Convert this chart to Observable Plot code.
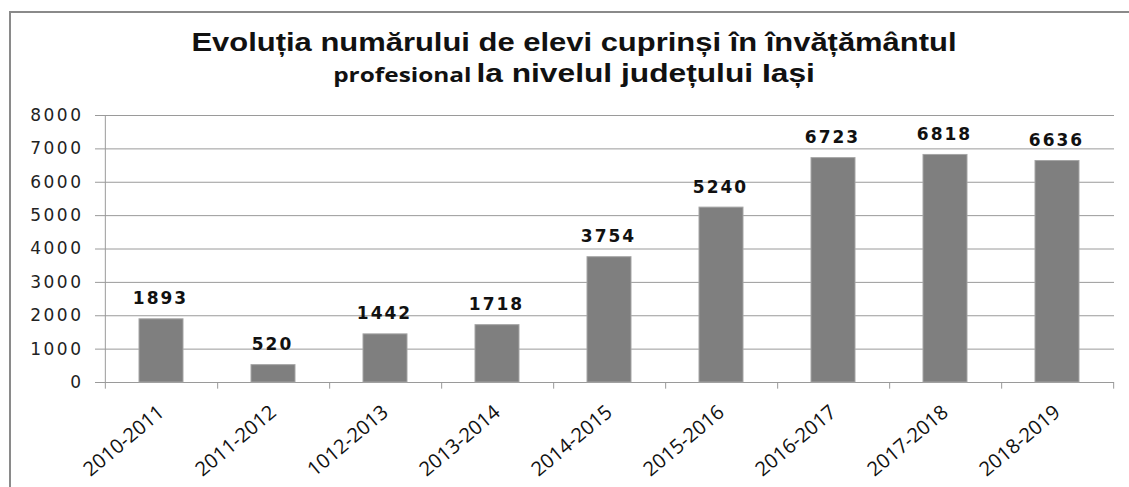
<!DOCTYPE html>
<html><head><meta charset="utf-8">
<script src="https://cdn.jsdelivr.net/npm/d3@7"></script>
<script src="https://cdn.jsdelivr.net/npm/@observablehq/plot@0.6"></script>
<style>
body{margin:0;background:#fff;}
#wrap{position:relative;width:1129px;height:487px;overflow:hidden;background:#fff;}
#border{position:absolute;left:9px;top:11px;width:1140px;height:500px;border-left:2px solid #8a8a8a;border-top:2px solid #8a8a8a;}
#chart{position:absolute;left:0;top:0;}
.t{position:absolute;left:0;width:1148px;text-align:center;white-space:nowrap;color:#111;font-weight:bold;transform-origin:574px 50%;}
#t1{top:26px;font:bold 26px "Liberation Sans",Arial,sans-serif;line-height:32px;transform:scaleX(1.19);}
#t2{top:58px;line-height:32px;transform:scaleX(1.22);}
#t2 .a{font:bold 20px "Open Sans",sans-serif;}
#t2 .b{font:bold 26px "Liberation Sans",Arial,sans-serif;}
svg [aria-label="y-axis tick label"] text{font-family:"DejaVu Sans",sans-serif;font-size:17px;letter-spacing:2.5px;}
svg [aria-label="x-axis tick label"] text{font-family:"Open Sans",sans-serif;font-size:20px;}
svg .vlabel text{font-family:"DejaVu Sans",sans-serif;font-weight:bold;font-size:17px;letter-spacing:2px;}
</style></head>
<body><div id="wrap"><div id="border"></div><div id="chart"></div>
<div class="t" id="t1">Evoluția numărului de elevi cuprinși în învățământul</div>
<div class="t" id="t2"><span class="a">profesional</span> <span class="b">la nivelul județului Iași</span></div>
</div>
<script>
const categories = ["2010-2011","2011-2012","1012-2013","2013-2014","2014-2015","2015-2016","2016-2017","2017-2018","2018-2019"];
const values = [1893,520,1442,1718,3754,5240,6723,6818,6636];
const yTicks = [0,1000,2000,3000,4000,5000,6000,7000,8000];

const data = categories.map((c,i)=>({year:c, value:values[i]}));
const W=1129, H=487, mL=103, mR=15, mT=115, mB=105;
const step=(W-mL-mR)/categories.length;
const gray="#9a9a9a";
const plot = Plot.plot({
  width:W, height:H, marginLeft:mL, marginRight:mR, marginTop:mT, marginBottom:mB,
  style:{background:"transparent", color:"#222"},
  x:{domain:categories, padding:0},
  y:{domain:[0,8000]},
  marks:[
    Plot.gridY(yTicks,{stroke:gray, strokeOpacity:1}),
    Plot.axisY(yTicks,{tickSize:8, tickPadding:12, stroke:gray, strokeOpacity:1, fill:"#222", fontSize:17, fontFamily:"DejaVu Sans", tickFormat:d=>String(d), label:null}),
    Plot.barY(data,{x:"year", y:"value", fill:"#7f7f7f", stroke:"#a5a5a5", strokeWidth:1, insetLeft:34, insetRight:34}),
    Plot.ruleX([categories[0]],{x:d=>d, dx:-step/2, y1:-200, y2:8000, stroke:gray}),
    Plot.ruleX(categories,{x:d=>d, dx:step/2, y1:0, y2:-200, stroke:gray}),
    Plot.axisX({tickSize:0, tickPadding:27, tickRotate:-40, label:null, fill:"#111", fontSize:20, fontFamily:"Open Sans"}),
    Plot.text(data,{x:"year", y:"value", text:d=>String(d.value), dy:-15, dx:-1, lineAnchor:"bottom", fill:"#111", fontSize:17, fontWeight:"bold", fontFamily:"DejaVu Sans", className:"vlabel"})
  ]
});
document.getElementById("chart").appendChild(plot);
</script>
</body></html>
